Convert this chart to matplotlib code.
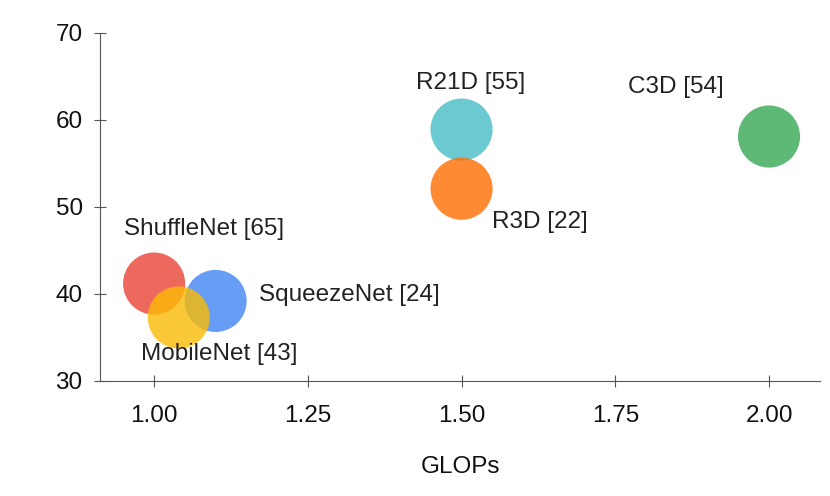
import matplotlib
matplotlib.use("Agg")
import matplotlib.pyplot as plt

# datos
modelos = ["ShuffleNet [65]", "SqueezeNet [24]", "MobileNet [43]", "R21D [55]", "R3D [22]", "C3D [54]"]
glops = [1.00, 1.10, 1.04, 1.50, 1.50, 2.00]
precision = [41.2, 39.2, 37.3, 58.9, 52.1, 58.1]
colores = ["#EA4335", "#4285F4", "#FBBC05", "#46BDC6", "#FF6D01", "#34A853"]
# posición de las etiquetas (coordenadas de datos)
etiqueta_x = [1.081, 1.317, 1.106, 1.514, 1.628, 1.849]
etiqueta_y = [47.5, 39.9, 33.1, 64.2, 48.3, 63.8]

plt.rcParams['font.family'] = ['Liberation Sans', 'DejaVu Sans']

fig = plt.figure(figsize=(8.3, 4.96), dpi=100)
ax = fig.add_axes([0.1205, 0.2319, 0.8675, 0.7016])

for i in range(len(modelos)):
    ax.scatter(glops[i], precision[i], s=2000, color=colores[i], alpha=0.8, edgecolors='none', zorder=2)
    ax.text(etiqueta_x[i], etiqueta_y[i], modelos[i], ha='center', va='center', fontsize=17.5, color='#222222', zorder=3)

ax.set_xlim(0.912, 2.083)
ax.set_ylim(30, 70)
ax.set_xticks([1.00, 1.25, 1.50, 1.75, 2.00])
ax.set_xticklabels(["1.00", "1.25", "1.50", "1.75", "2.00"])
ax.set_yticks([30, 40, 50, 60, 70])
ax.set_xlabel("GLOPs", fontsize=17.5, labelpad=21, color='#111111')
ax.spines['top'].set_visible(False)
ax.spines['right'].set_visible(False)
for s in ['left', 'bottom']:
    ax.spines[s].set_color('#555555')
ax.tick_params(labelsize=17.5, colors='#555555', labelcolor='#111111', direction='inout', length=9, pad=8)
ax.tick_params(axis='x', pad=13)

fig.savefig("out.png", dpi=100)
